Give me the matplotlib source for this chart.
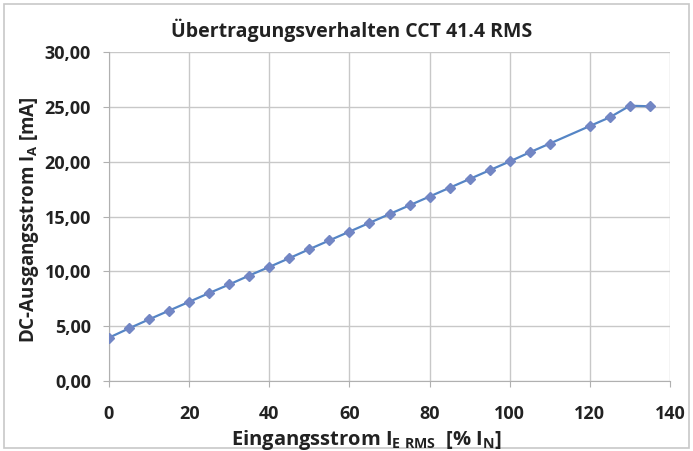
import matplotlib.pyplot as plt
from matplotlib.patches import Rectangle

plt.rcParams['font.family'] = ['Open Sans', 'DejaVu Sans']
plt.rcParams['mathtext.fontset'] = 'custom'
plt.rcParams['mathtext.rm'] = 'Open Sans:bold'
plt.rcParams['mathtext.default'] = 'rm'

# input current in % of I_N, output DC current in mA
x_vals = [0, 5, 10, 15, 20, 25, 30, 35, 40, 45, 50, 55, 60, 65, 70, 75, 80,
          85, 90, 95, 100, 105, 110, 120, 125, 130, 135]
y_vals = [3.95, 4.80, 5.62, 6.42, 7.22, 8.02, 8.80, 9.62, 10.40, 11.20, 12.02,
          12.82, 13.62, 14.42, 15.22, 16.02, 16.82, 17.62, 18.42, 19.22, 20.02,
          20.85, 21.65, 23.25, 24.05, 25.10, 25.05]

x_ticks = [0, 20, 40, 60, 80, 100, 120, 140]
y_ticks = [0, 5, 10, 15, 20, 25, 30]

fig = plt.figure(figsize=(6.93, 4.51), dpi=100)
ax = fig.add_axes([109/693, 1 - 381/451, (670 - 109)/693, (381 - 52)/451])

ax.plot(x_vals, y_vals, color='#5585C5', lw=1.6, marker='D', ms=5.5,
        mfc='#7286C4', mec='#7286C4', zorder=3)

ax.set_xlim(0, 140)
ax.set_ylim(0, 30)
ax.set_xticks(x_ticks)
ax.set_yticks(y_ticks)
ax.set_yticklabels([f'{v:.2f}'.replace('.', ',') for v in y_ticks])
ax.grid(True, color='#c8c8c8', lw=1)
ax.set_axisbelow(True)
for s in ['top', 'right']:
    ax.spines[s].set_visible(False)
for s in ['left', 'bottom']:
    ax.spines[s].set_color('#b0b0b0')
ax.tick_params(axis='both', colors='#b0b0b0', length=4, labelsize=13,
               labelcolor='#222222')
ax.tick_params(axis='x', pad=13)
ax.tick_params(axis='y', pad=9)
for lab in ax.get_xticklabels() + ax.get_yticklabels():
    lab.set_fontweight('bold')

fig.text(352/693, 1 - 30/451, 'Übertragungsverhalten CCT 41.4 RMS', fontsize=14,
         fontweight='bold', color='#222222', ha='center', va='center')
fig.text(367/693, 1 - 440/451,
         r'Eingangsstrom I$_{\mathrm{E\ RMS}}$  [% I$_{\mathrm{N}}$]',
         fontsize=14.5, fontweight='bold', color='#222222', ha='center', va='center')
fig.text(30/693, 1 - 220/451, r'DC-Ausgangsstrom I$_{\mathrm{A}}$ [mA]',
         fontsize=13.5, fontweight='bold', color='#222222', ha='center', va='center',
         rotation=90)

fig.patches.append(Rectangle((0.006, 0.006), 0.988, 0.985, transform=fig.transFigure,
                             fill=False, ec='#c8c8c8', lw=1.2))

fig.savefig('out.png', dpi=100)
